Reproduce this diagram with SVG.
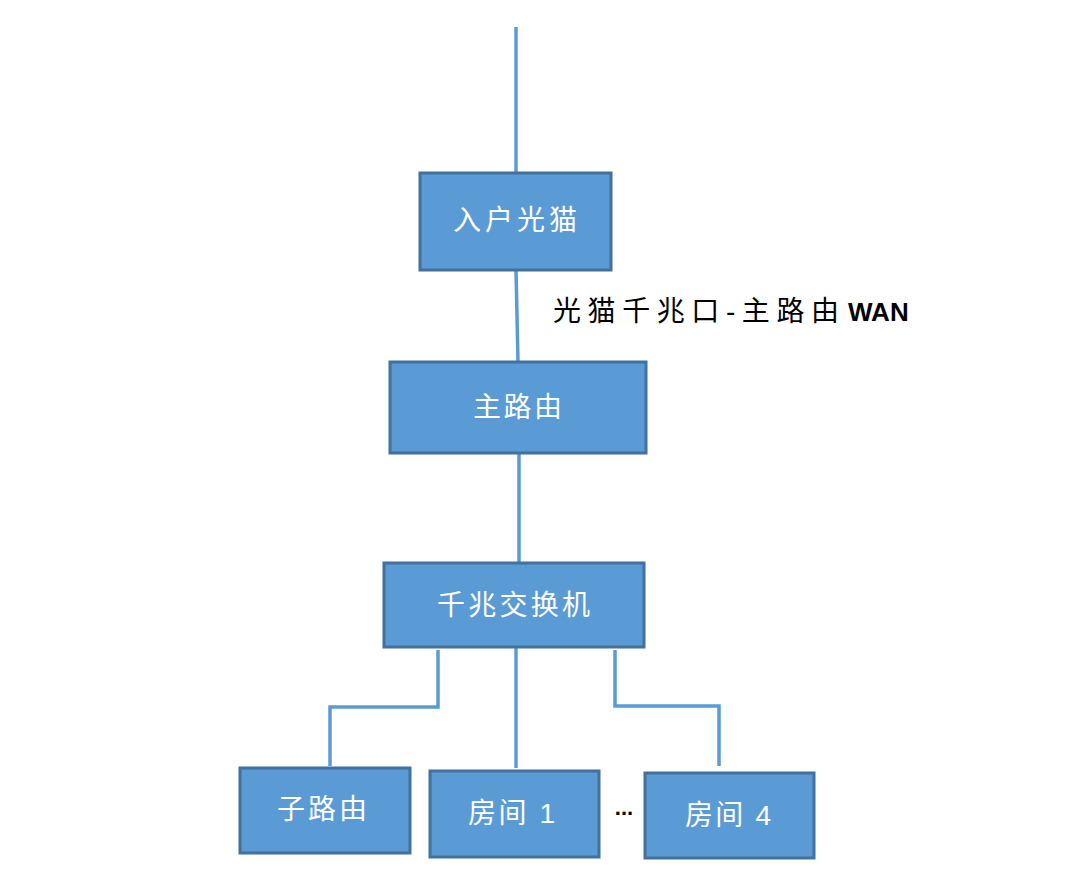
<svg xmlns="http://www.w3.org/2000/svg" width="1080" height="889" viewBox="0 0 1080 889">
<style>
.box{fill:#5B9BD5;stroke:#41719C;stroke-width:3}
.lbl{font-family:"Liberation Sans","Noto Sans CJK SC",sans-serif;font-size:28px;fill:#FFFFFF;dominant-baseline:central}
.ln{fill:none;stroke:#5B9BD5;stroke-width:3.5}
.note{font-family:"Liberation Sans","Noto Sans CJK SC",sans-serif;font-size:28px;fill:#000000}
</style>
<rect width="1080" height="889" fill="#FFFFFF"/>
<g id="connectors">
<line class="ln" x1="516" y1="27" x2="516" y2="173"/>
<line class="ln" x1="516" y1="270" x2="518" y2="362"/>
<line class="ln" x1="519" y1="453" x2="519" y2="563"/>
<polyline class="ln" points="438,650 438,707 330,707 330,766"/>
<line class="ln" x1="516" y1="647" x2="516" y2="768"/>
<polyline class="ln" points="615,650 615,706 719,706 719,766"/>
</g>
<g id="n-modem">
<rect class="box" x="420" y="173" width="191" height="97"/>
<text class="lbl" x="453" y="220" textLength="124" lengthAdjust="spacing">入户光猫</text>
</g>
<g id="n-main-router">
<rect class="box" x="390" y="362" width="256" height="91"/>
<text class="lbl" x="473" y="407" textLength="89" lengthAdjust="spacing">主路由</text>
</g>
<g id="n-switch">
<rect class="box" x="384" y="563" width="260" height="84"/>
<text class="lbl" x="437" y="605" textLength="153" lengthAdjust="spacing">千兆交换机</text>
</g>
<g id="n-sub-router">
<rect class="box" x="240" y="768" width="170" height="85"/>
<text class="lbl" x="277" y="809" textLength="90" lengthAdjust="spacing">子路由</text>
</g>
<g id="n-room1">
<rect class="box" x="430" y="771" width="169" height="86"/>
<text class="lbl" x="468" y="813" textLength="87" lengthAdjust="spacing">房间 1</text>
</g>
<g id="n-room4">
<rect class="box" x="645" y="773" width="169" height="85"/>
<text class="lbl" x="685" y="815" textLength="86" lengthAdjust="spacing">房间 4</text>
</g>
<g id="labels">
<text class="note" x="553" y="321"><tspan textLength="286" lengthAdjust="spacing">光猫千兆口-主路由</tspan><tspan x="848" font-weight="bold" font-size="26">WAN</tspan></text>
<text x="624" y="815" font-family="Liberation Sans,sans-serif" font-size="22" font-weight="bold" fill="#000000" text-anchor="middle">...</text>
</g>
</svg>
